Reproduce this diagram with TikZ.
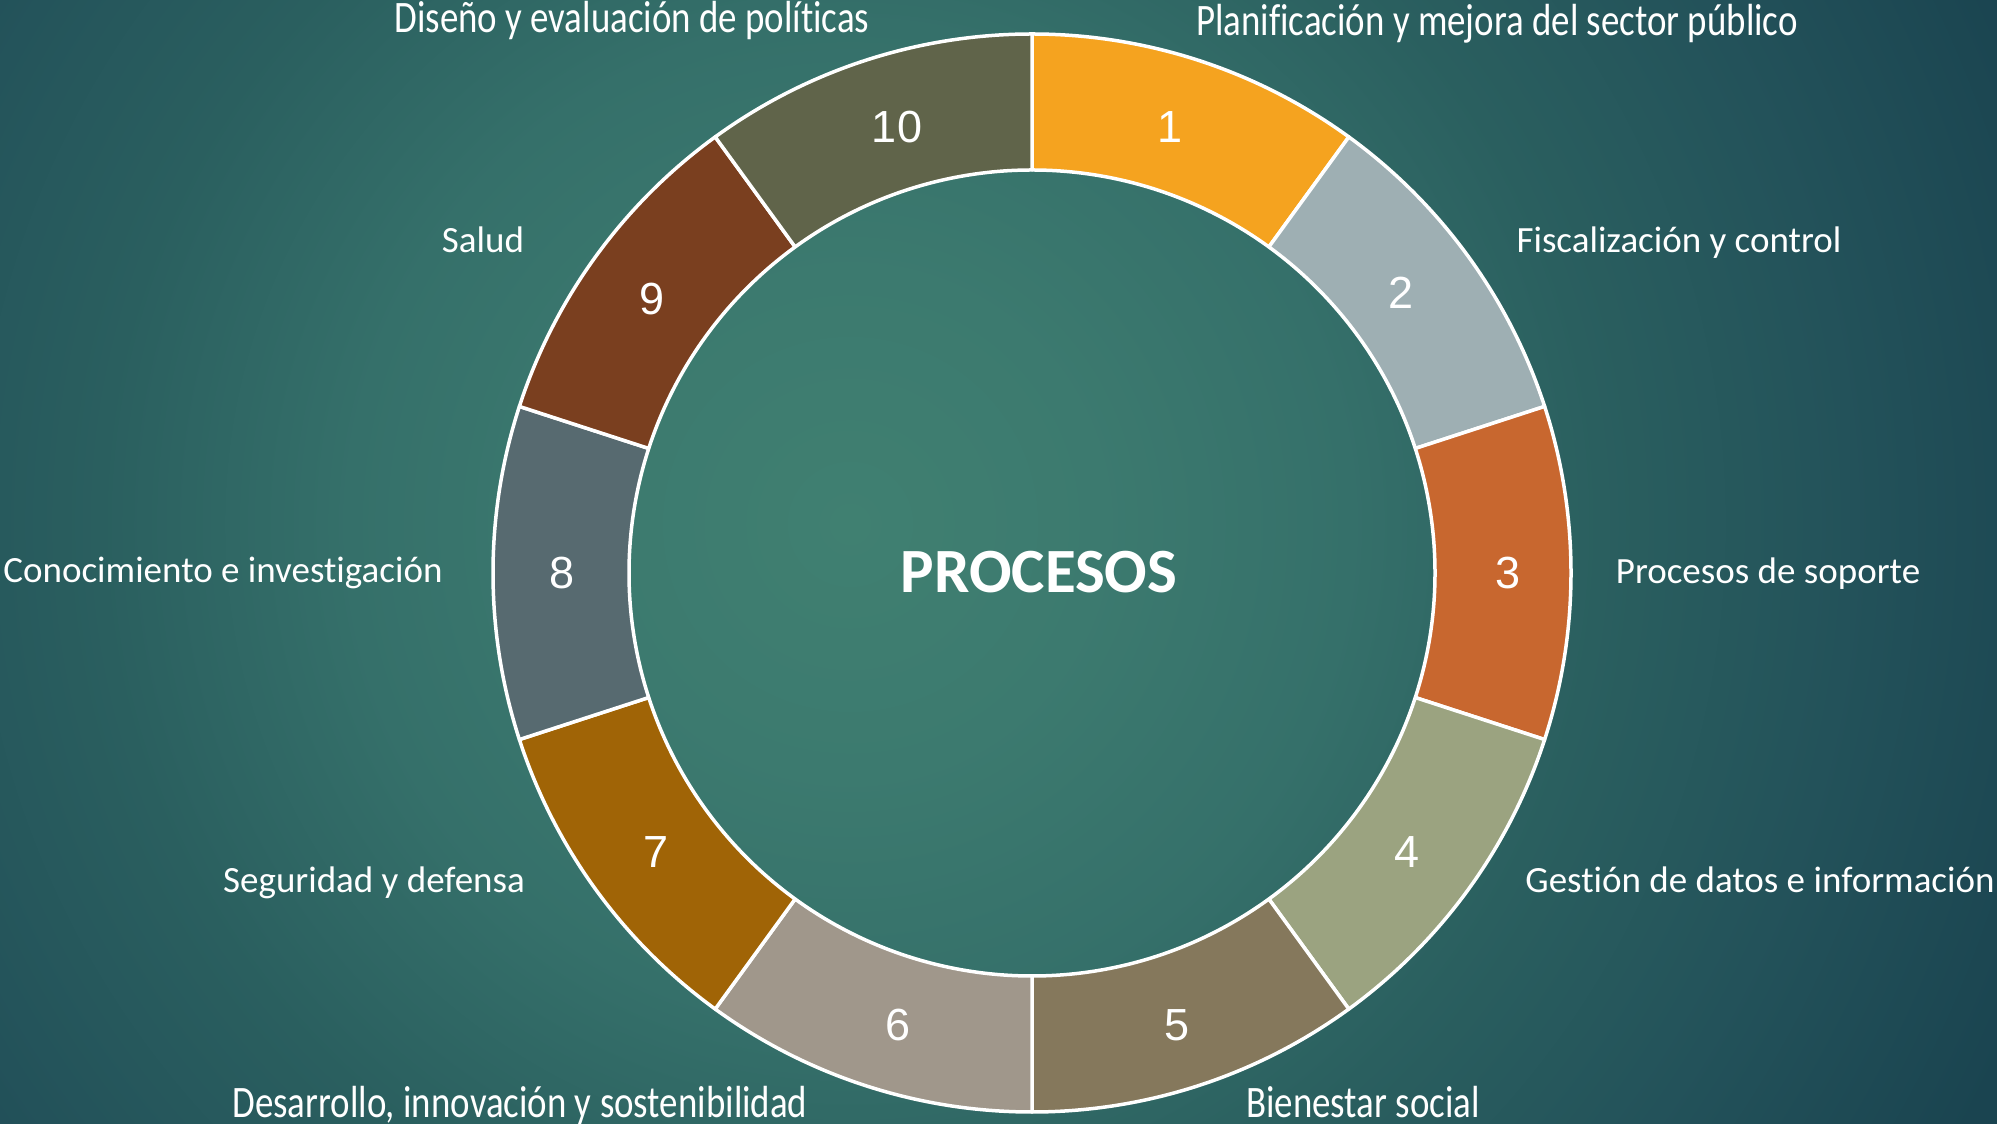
\documentclass[tikz,border=0pt]{standalone}
\usepackage{graphicx}
\usepackage{fontspec}
\setmainfont{Carlito}[Ligatures=NoCommon]
\newfontfamily\numfont{Liberation Sans}
\definecolor{bgA}{HTML}{408071}
\definecolor{bgB}{HTML}{3C7A6F}
\definecolor{bgC}{HTML}{35706A}
\definecolor{bgE}{HTML}{2A5F5F}
\definecolor{bgF}{HTML}{23525A}
\definecolor{bgD}{HTML}{1A4450}
\definecolor{s1}{HTML}{F5A31F}
\definecolor{s2}{HTML}{9EAFB3}
\definecolor{s3}{HTML}{C8672F}
\definecolor{s4}{HTML}{9BA380}
\definecolor{s5}{HTML}{85785C}
\definecolor{s6}{HTML}{A0978B}
\definecolor{s7}{HTML}{A06406}
\definecolor{s8}{HTML}{576A70}
\definecolor{s9}{HTML}{7A3F1F}
\definecolor{s10}{HTML}{60644A}
\pgfdeclareradialshading{bgshade}{\pgfpoint{0bp}{0bp}}{color(0bp)=(bgA); color(5bp)=(bgB); color(10bp)=(bgC); color(15bp)=(bgE); color(20bp)=(bgF); color(25.4bp)=(bgD); color(50bp)=(bgD)}
\tikzset{
  seg/.style={draw=white, line width=3.5pt, line join=round},
  num/.style={text=white, font=\numfont\fontsize{45}{48}\selectfont, inner sep=0pt},
  lab/.style={text=white, font=\fontsize{37}{40}\selectfont, anchor=base, inner sep=0pt},
  labtb/.style={text=white, font=\fontsize{45}{50}\selectfont, anchor=base, inner sep=0pt},
  title/.style={text=white, font=\bfseries\fontsize{63}{68}\selectfont, inner sep=0pt}
}
\begin{document}
\begin{tikzpicture}[x=1pt,y=1pt]
\useasboundingbox (0,0) rectangle (1997,1124);
\begin{scope}
\clip (0,0) rectangle (1997,1124);
\fill[bgD] (0,0) rectangle (1997,1124);
\shade[shading=bgshade] (-400,-650) rectangle (2100,1850);
\end{scope}
\begin{scope}[shift={(1032,551)}]
\foreach \i/\c in {1/s1,2/s2,3/s3,4/s4,5/s5,6/s6,7/s7,8/s8,9/s9,10/s10}{
  \pgfmathsetmacro\a{90-36*(\i-1)}
  \pgfmathsetmacro\b{90-36*\i}
  \draw[seg, fill=\c] (\a:403pt) -- (\a:539pt) arc[start angle=\a, end angle=\b, radius=539pt] -- (\b:403pt) arc[start angle=\b, end angle=\a, radius=403pt] -- cycle;
}
\end{scope}
\node[num] (n1) at (1170,997) {1};
\node[num] (n2) at (1401,831) {2};
\node[num] (n3) at (1508,551) {3};
\node[num] (n4) at (1407,272) {4};
\node[num] (n5) at (1177,99) {5};
\node[num] (n6) at (898,99) {6};
\node[num] (n7) at (656,272) {7};
\node[num] (n8) at (562,551) {8};
\node[num] (n9) at (652,825) {9};
\node[num] (n10) at (897,997) {10};
\node[title] (centro) at (1039,552) {PROCESOS};
\node[labtb] (l10) at (632,1091) {\scalebox{0.82}[1]{Diseño y evaluación de políticas}};
\node[labtb] (l1) at (1497,1088) {\scalebox{0.82}[1]{Planificación y mejora del sector público}};
\node[lab] (l9) at (483,871) {Salud};
\node[lab] (l2) at (1679,871) {Fiscalización y control};
\node[lab] (l8) at (223,541) {Conocimiento e investigación};
\node[lab] (l3) at (1768,540) {Procesos de soporte};
\node[lab] (l7) at (374,231) {Seguridad y defensa};
\node[lab] (l4) at (1760,231) {Gestión de datos e información};
\node[labtb] (l6) at (520,6) {\scalebox{0.82}[1]{Desarrollo, innovación y sostenibilidad}};
\node[labtb] (l5) at (1363,6) {\scalebox{0.82}[1]{Bienestar social}};
\end{tikzpicture}
\end{document}
